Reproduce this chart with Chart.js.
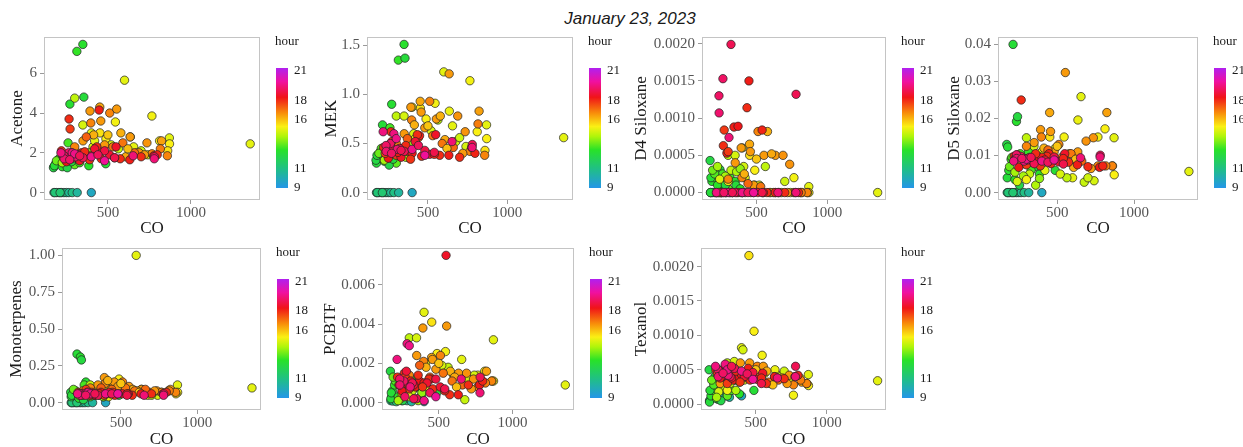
<!DOCTYPE html>
<html>
<head>
<meta charset="utf-8">
<script src="https://cdn.jsdelivr.net/npm/chart.js@4/dist/chart.umd.min.js"></script>
<style>
  html, body { margin: 0; padding: 0; background: #fff; }
  body { width: 1243px; height: 447px; position: relative; overflow: hidden; }
  canvas.panel { position: absolute; }
  #title { position: absolute; left: 0; width: 1260px; top: 9px; text-align: center;
           font: italic 17px "Liberation Sans", Arial, sans-serif; color: #1a1a1a; }
</style>
</head>
<body>
<div id="title">January 23, 2023</div>
<script>
// Observations (one entry per sample): CO, hour of day, and species concentrations.
const co = [
  175,190,205,220,235,250,265,285,315,400,180,212,
  175,185,200,172,213,235,242,178,271,313,349,355,260,487,385,205,225,300,190,255,330,280,
  1357,600,765,300,870,871,860,655,545,349,400,740,676,563,811,635,452,488,410,320,280,240,360,300,420,520,700,225,385,
  392,451,511,553,634,397,457,578,735,823,858,688,607,816,765,414,350,480,530,300,660,720,590,440,250,370,620,500,
  266,272,447,433,341,370,291,300,632,574,776,797,549,220,240,330,400,460,510,280,360,420,250,310,480,390,700,230,540,
  320,263,235,780,236,306,285,300,217,652,779,350,400,270,440,540,480,330
];
const hour = [
  11.0,11.0,10.8,11.2,10.9,11.0,10.7,11.0,10.5,9.8,11.3,11.4,
  12.5,12.8,13.0,12.3,12.6,12.8,12.4,12.6,12.7,13.0,12.8,12.5,13.2,12.6,12.9,13.3,12.9,13.5,13.6,12.2,13.2,12.4,
  15.0,15.0,15.2,14.5,15.0,15.3,15.5,15.0,15.2,14.8,15.0,14.8,14.6,14.5,15.3,15.1,15.5,15.3,14.8,14.5,14.2,14.8,14.3,15.2,15.0,14.8,14.7,14.2,14.0,
  16.5,16.3,16.8,16.5,16.5,16.8,16.5,16.2,16.6,16.4,16.8,16.6,16.3,16.9,16.8,16.2,16.5,16.5,17.0,16.8,17.2,16.5,17.0,17.2,16.5,17.3,16.0,15.9,
  18.0,17.8,18.2,18.0,18.2,18.3,18.2,17.8,18.2,18.0,18.3,18.1,18.5,18.0,18.4,18.5,18.2,18.0,18.6,18.7,18.0,18.6,18.3,18.2,18.8,17.9,18.0,17.8,18.1,
  19.0,19.2,19.2,19.0,19.3,19.4,19.5,19.6,19.5,19.4,19.4,19.0,19.6,19.2,19.1,18.9,19.8,19.0
];
const acetone = [
  0,0,0,0,0,0,0,0,0,0,0,0,
  1.3,1.45,1.55,1.25,1.5,1.6,1.4,1.35,4.45,7.1,7.45,4.8,2.5,1.45,1.35,1.7,1.3,1.4,1.6,1.25,1.5,1.55,
  2.45,5.65,3.85,4.75,2.75,2.45,2.1,2.3,3.55,3.4,3.0,1.9,2.0,2.2,2.6,2.8,3.0,2.7,2.3,1.8,1.7,1.65,1.9,2.1,2.6,2.4,2.1,1.5,2.0,
  4.1,4.3,4.0,4.2,2.8,3.5,3.6,3.0,2.5,2.6,1.85,2.0,1.8,2.2,1.95,2.9,2.6,2.4,2.3,2.3,2.0,1.9,2.5,2.1,1.9,2.8,2.2,2.9,
  3.7,3.2,4.15,2.3,2.0,1.9,1.8,1.75,1.65,1.7,1.85,1.9,2.3,2.1,1.75,1.6,1.85,1.7,1.9,2.0,2.05,2.2,1.55,1.9,2.1,1.65,1.8,1.8,1.75,
  1.9,2.0,1.85,1.8,1.7,1.8,2.0,1.95,2.0,1.85,1.7,1.75,1.8,1.65,1.9,1.75,1.6,1.85
];
const mek = [
  0,0,0,0,0,0,0,0,0,0,0,0,
  0.30,0.35,0.42,0.33,0.69,0.47,0.40,0.38,0.90,1.35,1.51,1.37,0.66,0.40,0.35,0.45,0.32,0.30,0.40,0.28,0.38,0.34,
  0.56,1.23,1.14,0.78,0.69,0.55,0.43,0.68,0.91,0.78,0.87,0.47,0.52,0.74,0.62,0.83,0.86,0.75,0.60,0.45,0.40,0.38,0.36,0.42,0.55,0.63,0.56,0.33,0.50,
  0.87,0.93,0.93,0.75,1.21,0.74,0.82,0.78,0.62,0.83,0.38,0.78,0.54,0.70,0.42,0.69,0.60,0.66,0.58,0.50,0.46,0.40,0.50,0.56,0.42,0.55,0.45,0.68,
  0.62,0.52,0.58,0.59,0.45,0.42,0.40,0.38,0.38,0.38,0.46,0.40,0.59,0.46,0.42,0.36,0.40,0.37,0.39,0.44,0.48,0.52,0.35,0.41,0.43,0.34,0.36,0.40,0.39,
  0.45,0.50,0.48,0.49,0.42,0.44,0.60,0.55,0.62,0.52,0.46,0.42,0.44,0.40,0.48,0.41,0.38,0.43
];
const d4Siloxane = [
  0,0,0,0,0,0,0,0,0,0,0,0,
  0,0.00015,0.0002,0.00043,0.0003,0.0002,0.00031,0.0002,0.0001,0.0002,0.00015,0.0001,0.00025,0.0001,0.00005,0.00025,0.0001,0.00005,0.0003,0,0,0.0001,
  0,0,0.0002,0.0005,0.00008,0,0,0,0,0.0005,0.0006,0,0,0.00035,0,0,0.0005,0.0003,0.00035,0.0003,0.00022,0.00018,0.00028,0.00015,0.0002,0.0001,0.00015,0.00035,0.00032,
  0.0006,0.00065,0.00082,0.0005,0.0005,0.0002,0.00055,0.00082,0.00038,0,0,0.0005,0.00052,0,0,0.00025,0.0004,0.0001,0.00008,0.00018,0,0,0,0.00012,0,0,0,0.00045,
  0.00063,0.00084,0.0015,0.00114,0.00088,0.00089,0.00053,0.00055,0,0,0,0,0,0,0,0,0,0,0,0,0,0,0,0,0,0,0,0,0.00084,
  0.00199,0.00153,0.0013,0.00132,0.00107,0.00074,0,0,0,0,0,0,0,0,0,0,0,0
];
const d5Siloxane = [
  0,0,0,0,0,0,0,0,0,0,0,0,
  0.004,0.006,0.009,0.013,0.040,0.0192,0.0205,0.0123,0.009,0.011,0.008,0.007,0.0105,0.006,0.005,0.0095,0.0035,0.004,0.007,0.002,0.006,0.0078,
  0.0057,0.004,0.015,0.0148,0.0148,0.0048,0.0072,0.0259,0.015,0.0125,0.011,0.0032,0.0028,0.004,0.0172,0.0196,0.015,0.012,0.010,0.005,0.0045,0.003,0.002,0.0035,0.006,0.005,0.004,0.0055,0.0038,
  0.017,0.0216,0.013,0.0324,0.011,0.015,0.0165,0.0105,0.0148,0.0216,0.0072,0.0139,0.0068,0.0072,0.0072,0.012,0.0135,0.011,0.0095,0.0125,0.0085,0.0065,0.0105,0.0115,0.0085,0.0098,0.009,0.0125,
  0.025,0.0095,0.0105,0.0098,0.0088,0.009,0.0085,0.0075,0.0075,0.0082,0.0068,0.0072,0.0105,0.0098,0.0102,0.0088,0.0095,0.0078,0.0083,0.0092,0.0105,0.0088,0.0068,0.0092,0.0096,0.0072,0.0070,0.0094,0.0092,
  0.0095,0.0098,0.0102,0.0101,0.0092,0.0088,0.0085,0.0090,0.0085,0.0094,0.0096,0.0078,0.0085,0.0092,0.0082,0.0077,0.0088,0.0095
];
const monoterpenes = [
  0,0,0,0,0,0,0,0,0,0,0,0,
  0.04,0.06,0.05,0.07,0.33,0.31,0.29,0.05,0.14,0.08,0.06,0.07,0.12,0.05,0.04,0.08,0.03,0.04,0.09,0.02,0.05,0.06,
  0.10,1.00,0.07,0.12,0.12,0.07,0.06,0.06,0.08,0.07,0.05,0.05,0.05,0.06,0.08,0.09,0.10,0.16,0.10,0.08,0.07,0.06,0.05,0.05,0.04,0.11,0.05,0.05,0.04,
  0.17,0.12,0.14,0.11,0.09,0.13,0.14,0.09,0.08,0.09,0.07,0.07,0.08,0.08,0.07,0.15,0.12,0.11,0.10,0.10,0.09,0.08,0.08,0.09,0.08,0.10,0.07,0.13,
  0.07,0.09,0.07,0.06,0.06,0.07,0.06,0.05,0.06,0.05,0.06,0.07,0.06,0.07,0.06,0.05,0.06,0.05,0.06,0.07,0.06,0.07,0.05,0.07,0.06,0.05,0.06,0.06,0.06,
  0.06,0.06,0.06,0.06,0.05,0.06,0.07,0.06,0.06,0.05,0.05,0.05,0.06,0.05,0.06,0.05,0.06,0.06
];
const pcbtf = [
  0.0001,0.00008,0.00015,0.0002,0.00012,0.0001,0.00025,0.0001,0.00005,0.00005,0.0003,0.00005,
  0.0002,0.0006,0.0009,0.0016,0.0012,0.0009,0.001,0.0005,0.0009,0.0012,0.001,0.0008,0.0006,0.0005,0.0004,0.0011,0.0003,0.0004,0.0013,0.0001,0.0007,0.0008,
  0.0009,0.0014,0.0014,0.0033,0.0032,0.0011,0.0011,0.0022,0.0026,0.0033,0.0046,0.0014,0.00015,0.0018,0.0016,0.0014,0.0041,0.0025,0.0020,0.0006,0.0004,0.0002,0.0001,0.0003,0.0008,0.0019,0.0012,0.0001,0.0005,
  0.0038,0.0023,0.0024,0.0039,0.0015,0.0021,0.0022,0.0016,0.0012,0.0016,0.0011,0.0015,0.0013,0.0010,0.0008,0.0018,0.0024,0.0017,0.0015,0.0014,0.0009,0.0007,0.0011,0.0013,0.0005,0.0019,0.0008,0.0020,
  0.0015,0.0013,0.0012,0.0012,0.0008,0.0011,0.0009,0.0007,0.0004,0.0004,0.0009,0.0011,0.0075,0.0013,0.0011,0.0009,0.0010,0.0007,0.0008,0.0016,0.0014,0.0010,0.0006,0.0011,0.0012,0.0008,0.0009,0.0009,0.0006,
  0.0010,0.0011,0.0012,0.0013,0.0009,0.0008,0.0030,0.0029,0.0022,0.0012,0.0005,0.0002,0.0001,0.0003,0.0005,0.0007,0.0003,0.0002
];
const texanol = [
  0.00005,0.00008,0.0001,0.00012,0.00007,0.00015,0.0001,0.00018,0.0001,0.00012,0.00006,0.0002,
  0.00003,0.00012,0.0002,0.0005,0.0004,0.0003,0.00035,0.0002,0.0003,0.00045,0.0004,0.00035,0.00025,0.0002,0.00015,0.00028,0.00008,0.00012,0.00035,0.00005,0.0002,0.00022,
  0.00034,0.0003,0.00013,0.0006,0.00043,0.00027,0.0003,0.00042,0.00071,0.00062,0.00082,0.00038,0.0004,0.00045,0.00038,0.0005,0.00216,0.00106,0.00079,0.0003,0.00025,0.00018,0.0002,0.0002,0.00035,0.00045,0.00048,0.0001,0.00032,
  0.0006,0.0005,0.00055,0.00055,0.0004,0.00045,0.0006,0.00048,0.00042,0.00032,0.0003,0.00038,0.0003,0.00035,0.00028,0.0004,0.0005,0.00042,0.0004,0.00045,0.00035,0.0003,0.00032,0.00038,0.0003,0.0004,0.00028,0.0005,
  0.0005,0.00045,0.00052,0.0004,0.00035,0.00041,0.0004,0.0003,0.0004,0.0003,0.0004,0.00042,0.00045,0.0005,0.00048,0.00038,0.00043,0.00035,0.00036,0.00042,0.00048,0.0004,0.00038,0.00052,0.00046,0.00032,0.00037,0.00044,0.00038,
  0.0004,0.00045,0.0005,0.00055,0.0004,0.00042,0.00058,0.0005,0.00055,0.00038,0.0004,0.00052,0.00048,0.00045,0.00044,0.0003,0.00036,0.00055
];

// Axis ticks
const coTicks = [500, 1000];
const acetoneTicks = [0, 2, 4, 6];
const mekTicks = [0, 0.5, 1.0, 1.5];
const d4Ticks = [0, 0.0005, 0.001, 0.0015, 0.002];
const d5Ticks = [0, 0.01, 0.02, 0.03, 0.04];
const monoTicks = [0, 0.25, 0.5, 0.75, 1.0];
const pcbtfTicks = [0, 0.002, 0.004, 0.006];
const texanolTicks = [0, 0.0005, 0.001, 0.0015, 0.002];
const hourTicks = [9, 11, 16, 18, 21];

// Colour scale for hour of day (hour -> colour), bar spans 9 .. 21.3
const HOUR_MIN = 9, HOUR_MAX = 21.3;
const hourStops = [
  [9.0,  [36, 150, 232]],
  [11.0, [32, 192, 132]],
  [12.9, [40, 226, 40]],
  [14.3, [176, 245, 10]],
  [15.3, [250, 240, 20]],
  [16.7, [248, 140, 10]],
  [18.3, [240, 20, 24]],
  [19.9, [240, 16, 160]],
  [21.3, [176, 32, 240]]
];
function hourColor(h) {
  if (h <= hourStops[0][0]) return 'rgb(' + hourStops[0][1].join(',') + ')';
  for (let i = 1; i < hourStops.length; i++) {
    const [h1, c1] = hourStops[i];
    if (h <= h1) {
      const [h0, c0] = hourStops[i - 1];
      const t = (h - h0) / (h1 - h0);
      const c = c0.map((v, k) => Math.round(v + (c1[k] - v) * t));
      return 'rgb(' + c.join(',') + ')';
    }
  }
  return 'rgb(' + hourStops[hourStops.length - 1][1].join(',') + ')';
}

const SERIF = '"Liberation Serif", "Times New Roman", serif';
const TITLE_SIZE = 17, TITLE_LH = TITLE_SIZE * 1.2;

// Panel border + hour colour bar
const panelDecor = {
  id: 'panelDecor',
  afterDatasetsDraw(chart) {
    const { ctx, chartArea: a } = chart;
    ctx.save();
    ctx.strokeStyle = '#c4c4c4';
    ctx.lineWidth = 1;
    ctx.strokeRect(Math.round(a.left) + 0.5, Math.round(a.top) + 0.5,
                   Math.round(a.right - a.left) - 1, Math.round(a.bottom - a.top) - 1);
    ctx.restore();
  },
  afterDraw(chart) {
    const { ctx, chartArea: a } = chart;
    const bx = a.right + 16, bw = 12;
    const top = a.top + 31, bottom = a.bottom - 12, bh = bottom - top;
    ctx.save();
    const g = ctx.createLinearGradient(0, bottom, 0, top);
    hourStops.forEach(([h, c]) => g.addColorStop((h - HOUR_MIN) / (HOUR_MAX - HOUR_MIN), 'rgb(' + c.join(',') + ')'));
    ctx.fillStyle = g;
    ctx.fillRect(bx, top, bw, bh);
    ctx.fillStyle = '#1a1a1a';
    ctx.font = '13px ' + SERIF;
    ctx.textAlign = 'left';
    ctx.textBaseline = 'middle';
    ctx.fillText('hour', a.right + 15, a.top + 5);
    hourTicks.forEach(h => {
      const y = bottom - (h - HOUR_MIN) / (HOUR_MAX - HOUR_MIN) * bh;
      ctx.fillText(String(h), bx + bw + 6, y);
    });
    ctx.restore();
  }
};

const CO_MIN = 115, CO_MAX = 1416;

// plot = [left, top, right, bottom] of the data area; canvas = [x, y, w, h]
const panels = [
  { name: 'Acetone',      values: acetone,      ticks: acetoneTicks, dec: 0, min: -0.373,    max: 7.823,    plot: [44, 33, 260, 200],  canvas: [0, 25, 312, 215],   titleX: 18,  xTitleY: 229 },
  { name: 'MEK',          values: mek,          ticks: mekTicks,     dec: 1, min: -0.0755,   max: 1.5855,   plot: [367, 33, 573, 200], canvas: [300, 25, 325, 215], titleX: 332, xTitleY: 229 },
  { name: 'D4 Siloxane',  values: d4Siloxane,   ticks: d4Ticks,      dec: 4, min: -0.0001,   max: 0.00209,  plot: [702, 33, 886, 200], canvas: [625, 25, 310, 215], titleX: 642, xTitleY: 229 },
  { name: 'D5 Siloxane',  values: d5Siloxane,   ticks: d5Ticks,      dec: 2, min: -0.002,    max: 0.042,    plot: [998, 33, 1198, 200],canvas: [935, 25, 308, 215], titleX: 955, xTitleY: 229 },
  { name: 'Monoterpenes', values: monoterpenes, ticks: monoTicks,    dec: 2, min: -0.05,     max: 1.05,     plot: [62, 244, 261, 410], canvas: [0, 236, 312, 219],  titleX: 17,  xTitleY: 440 },
  { name: 'PCBTF',        values: pcbtf,        ticks: pcbtfTicks,   dec: 3, min: -0.000375, max: 0.007875, plot: [382, 244, 574, 410],canvas: [300, 236, 325, 219],titleX: 331, xTitleY: 440 },
  { name: 'Texanol',      values: texanol,      ticks: texanolTicks, dec: 4, min: -0.000085, max: 0.00227,  plot: [701, 244, 886, 410],canvas: [625, 236, 310, 219],titleX: 642, xTitleY: 440 }
];

const pointColors = hour.map(hourColor);

panels.forEach(p => {
  const [cx, cy, cw, ch] = p.canvas;
  const [pl, pt, pr, pb] = p.plot;
  const canvas = document.createElement('canvas');
  canvas.className = 'panel';
  canvas.width = cw; canvas.height = ch;
  canvas.style.left = cx + 'px'; canvas.style.top = cy + 'px';
  canvas.style.width = cw + 'px'; canvas.style.height = ch + 'px';
  document.body.appendChild(canvas);

  const padLeft = p.titleX - cx - TITLE_LH / 2;
  const padTop = pt - cy;
  const padRight = cx + cw - pr;
  const padBottom = cy + ch - (p.xTitleY + TITLE_LH / 2);
  const yWidth = pl - (cx + padLeft);
  const xHeight = (cy + ch - padBottom) - pb;

  const tickFont = { family: SERIF, size: 15 };
  const titleFont = { family: SERIF, size: TITLE_SIZE };
  const grid = { display: true, drawOnChartArea: false, drawTicks: true, tickLength: 4, color: '#9a9a9a', lineWidth: 1 };

  new Chart(canvas, {
    type: 'scatter',
    data: {
      datasets: [{
        data: co.map((x, i) => ({ x: x, y: p.values[i] })),
        backgroundColor: pointColors,
        borderColor: 'rgba(35,35,35,0.9)',
        borderWidth: 0.8,
        pointRadius: 4.2,
        pointHoverRadius: 4.2
      }]
    },
    options: {
      responsive: false,
      animation: false,
      devicePixelRatio: 1,
      events: [],
      layout: { padding: { left: padLeft, top: padTop, right: padRight, bottom: padBottom } },
      plugins: { legend: { display: false }, tooltip: { enabled: false } },
      scales: {
        x: {
          type: 'linear', min: CO_MIN, max: CO_MAX,
          afterBuildTicks: s => { s.ticks = coTicks.map(v => ({ value: v })); },
          afterFit: s => { s.height = xHeight; },
          ticks: { autoSkip: false, maxRotation: 0, padding: 0, color: '#555', font: tickFont, callback: v => String(v) },
          grid: grid,
          border: { display: false },
          title: { display: true, text: 'CO', color: '#1a1a1a', font: titleFont, padding: 0 }
        },
        y: {
          type: 'linear', min: p.min, max: p.max,
          afterBuildTicks: s => { s.ticks = p.ticks.map(v => ({ value: v })); },
          afterFit: s => { s.width = yWidth; },
          ticks: { autoSkip: false, padding: 3, color: '#555', font: tickFont, callback: v => Number(v).toFixed(p.dec) },
          grid: grid,
          border: { display: false },
          title: { display: true, text: p.name, color: '#1a1a1a', font: titleFont, padding: 0 }
        }
      }
    },
    plugins: [panelDecor]
  });
});
</script>
</body>
</html>
